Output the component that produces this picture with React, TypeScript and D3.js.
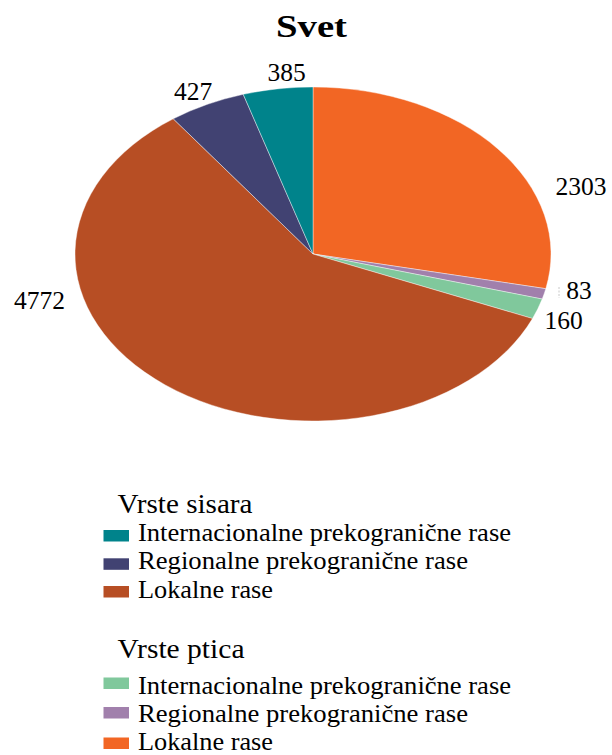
import React from "react";
import * as d3 from "d3";

const title = "Svet";
const groupTitles = ["Vrste sisara", "Vrste ptica"];
const categories = [
  "Internacionalne prekogranične rase",
  "Regionalne prekogranične rase",
  "Lokalne rase",
];
const mammalValues = [385, 427, 4772];
const birdValues = [160, 83, 2303];
const mammalColors = ["#00838B", "#414272", "#B74E24"];
const birdColors = ["#80C89C", "#A180AC", "#F26624"];

type Slice = { key: string; value: number; color: string };

// clockwise from 12 o'clock: birds (local, regional, intl), then mammals (local, regional, intl)
const slices: Slice[] = [
  ...[2, 1, 0].map((i) => ({ key: "b" + i, value: birdValues[i], color: birdColors[i] })),
  ...[2, 1, 0].map((i) => ({ key: "m" + i, value: mammalValues[i], color: mammalColors[i] })),
];

export default function App() {
  const W = 612;
  const H = 755;
  const cx = 313;
  const cy = 254;
  const rx = 238;
  const ry = 167;

  const pie = d3
    .pie<Slice>()
    .sort(null)
    .value((d) => d.value)
    .startAngle(0)
    .endAngle(2 * Math.PI);
  const arcs = pie(slices);
  const arc = d3.arc<d3.PieArcDatum<Slice>>().innerRadius(0).outerRadius(rx);

  // label placement (center x, baseline y) keyed by slice
  const labelPos: Record<string, [number, number]> = {
    b2: [581, 195],
    b1: [579, 299],
    b0: [563.5, 328.5],
    m2: [39.5, 309],
    m1: [193, 100],
    m0: [286.5, 81],
  };

  const legendGroups = [
    {
      title: groupTitles[0],
      titleY: 512.7,
      titleLen: 135,
      colors: mammalColors,
      baselines: [541, 569.3, 598.3],
      swatchTops: [530, 558.3, 586],
    },
    {
      title: groupTitles[1],
      titleY: 658,
      titleLen: 127,
      colors: birdColors,
      baselines: [694, 722, 749.5],
      swatchTops: [677.5, 707, 737.5],
    },
  ];
  const catLens = [373, 330, 135];

  return (
    <svg
      width={W}
      height={H}
      style={{ position: "absolute", left: 0, top: 0, fontFamily: '"Liberation Serif"' }}
      fontFamily="Liberation Serif"
    >
      <rect x={0} y={0} width={W} height={H} fill="#fff" />
      <text
        x={311.5}
        y={37}
        textAnchor="middle"
        fontFamily="Liberation Serif"
        fontWeight="bold"
        fontSize={31}
        textLength={71}
        lengthAdjust="spacingAndGlyphs"
        fill="#000"
      >
        {title}
      </text>

      <g transform={`translate(${cx},${cy}) scale(1,${ry / rx})`}>
        {arcs.map((a) => (
          <path
            key={a.data.key}
            d={arc(a) || ""}
            fill={a.data.color}
            stroke="#ffffff"
            strokeOpacity={0.6}
            strokeWidth={0.8}
          />
        ))}
      </g>

      <line
        x1={559}
        x2={559}
        y1={287}
        y2={298}
        stroke="#c8c8c8"
        strokeWidth={1}
        strokeDasharray="2,1.5"
      />

      {arcs.map((a) => {
        const p = labelPos[a.data.key];
        return (
          <text
            key={"l" + a.data.key}
            x={p[0]}
            y={p[1]}
            textAnchor="middle"
            fontFamily="Liberation Serif"
            fontSize={25.5}
            fill="#000"
          >
            {a.data.value}
          </text>
        );
      })}

      {legendGroups.map((g, gi) => (
        <g key={"g" + gi}>
          <text
            x={117.5}
            y={g.titleY}
            fontFamily="Liberation Serif"
            fontSize={26.5}
            textLength={g.titleLen}
            lengthAdjust="spacingAndGlyphs"
            fill="#000"
          >
            {g.title}
          </text>
          {categories.map((c, i) => (
            <g key={c}>
              <rect
                x={103.5}
                y={g.swatchTops[i]}
                width={25.5}
                height={11.5}
                fill={g.colors[i]}
              />
              <text
                x={138}
                y={g.baselines[i]}
                fontFamily="Liberation Serif"
                fontSize={25}
                textLength={catLens[i]}
                lengthAdjust="spacingAndGlyphs"
                fill="#000"
              >
                {c}
              </text>
            </g>
          ))}
        </g>
      ))}
    </svg>
  );
}
